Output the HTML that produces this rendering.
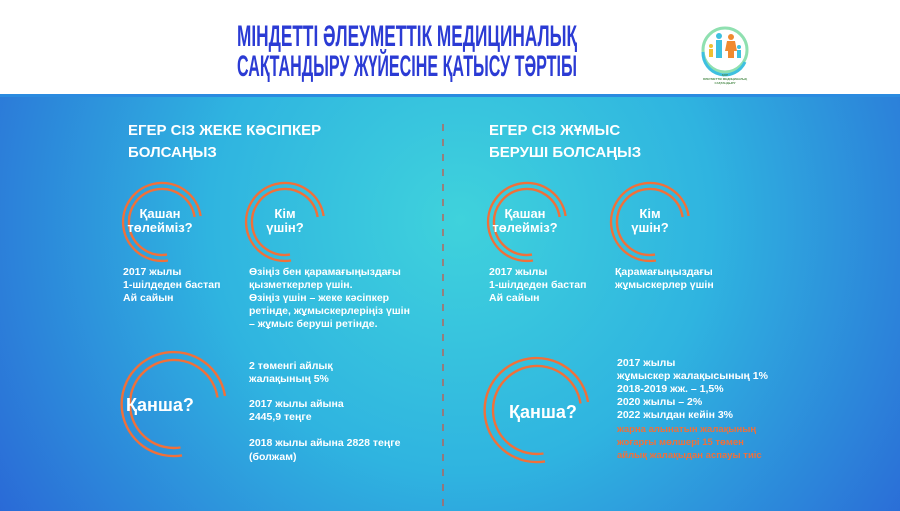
<!DOCTYPE html>
<html><head><meta charset="utf-8"><style>
html,body{margin:0;padding:0;width:900px;height:511px;overflow:hidden;background:#fff}
svg{display:block}
text{font-family:"Liberation Sans","DejaVu Sans",sans-serif;fill:#fff;font-weight:bold}
</style></head><body>
<svg width="900" height="511" viewBox="0 0 900 511">
<defs>
<radialGradient id="bg" cx="460" cy="220" r="560" gradientUnits="userSpaceOnUse">
<stop offset="0" stop-color="#3fd2dc"/>
<stop offset="0.45" stop-color="#2fb4e0"/>
<stop offset="1" stop-color="#2a66d6"/>
</radialGradient>
</defs>
<rect width="900" height="95" fill="#fff"/>
<rect y="95" width="900" height="416" fill="url(#bg)"/>
<rect y="94" width="900" height="3" fill="#2a8be0"/>
<text x="237" y="46" textLength="340" lengthAdjust="spacingAndGlyphs" style="font-size:30px;fill:#2b3bd4">МІНДЕТТІ ӘЛЕУМЕТТІК МЕДИЦИНАЛЫҚ</text>
<text x="237" y="76" textLength="340" lengthAdjust="spacingAndGlyphs" style="font-size:30px;fill:#2b3bd4">САҚТАНДЫРУ ЖҮЙЕСІНЕ ҚАТЫСУ ТӘРТІБІ</text>
<!-- logo -->
<circle cx="725" cy="50" r="22" fill="none" stroke="#8fe0b0" stroke-width="3"/>
<path d="M703 52 A22 22 0 0 0 745 62" fill="none" stroke="#3ec0e0" stroke-width="3"/>
<circle cx="719" cy="36" r="3" fill="#3ec0e0"/><rect x="716" y="40" width="6" height="18" fill="#3ec0e0"/>
<circle cx="731" cy="37" r="3" fill="#f08a30"/><path d="M727 41h8l2 10h-12z" fill="#f08a30"/><rect x="728" y="51" width="6" height="7" fill="#f08a30"/>
<circle cx="711" cy="46" r="2" fill="#f0c030"/><rect x="709" y="49" width="4" height="8" fill="#f0c030"/>
<circle cx="739" cy="47" r="2" fill="#3ec0e0"/><rect x="737" y="50" width="4" height="8" fill="#3ec0e0"/>
<text x="725" y="76" text-anchor="middle" style="font-size:3px;fill:#4a8a4a">ҚОР</text>
<text x="725" y="80" text-anchor="middle" style="font-size:3px;fill:#4a8a4a">ӘЛЕУМЕТТІК МЕДИЦИНАЛЫҚ</text>
<text x="725" y="84" text-anchor="middle" style="font-size:3px;fill:#4a8a4a">САҚТАНДЫРУ</text>

<line x1="443" y1="124" x2="443" y2="508" stroke="#c8584a" stroke-width="1.3" stroke-dasharray="7,8"/>

<g style="font-size:15px">
<text x="128" y="135">ЕГЕР СІЗ ЖЕКЕ КӘСІПКЕР</text>
<text x="128" y="157">БОЛСАҢЫЗ</text>
<text x="489" y="135">ЕГЕР СІЗ ЖҰМЫС</text>
<text x="489" y="157">БЕРУШІ БОЛСАҢЫЗ</text>
</g>

<g fill="none" stroke="#f0703a" stroke-width="2.4">
<!-- small arcs: open gap between ~15deg and ~80deg -->
<g id="s1" transform="translate(162,222)">
<path d="M38.6 -6 A39 39 0 1 0 6 38.5"/>
<path d="M32.6 -5 A33 33 0 1 0 5 32.6"/>
</g>
<g transform="translate(285,222)">
<path d="M38.6 -6 A39 39 0 1 0 6 38.5"/>
<path d="M32.6 -5 A33 33 0 1 0 5 32.6"/>
</g>
<g transform="translate(527,222)">
<path d="M38.6 -6 A39 39 0 1 0 6 38.5"/>
<path d="M32.6 -5 A33 33 0 1 0 5 32.6"/>
</g>
<g transform="translate(650,222)">
<path d="M38.6 -6 A39 39 0 1 0 6 38.5"/>
<path d="M32.6 -5 A33 33 0 1 0 5 32.6"/>
</g>
<g transform="translate(174,404)">
<path d="M51 -8 A52 52 0 1 0 8 51.4"/>
<path d="M43.5 -6.5 A44 44 0 1 0 6.5 43.5"/>
</g>
<g transform="translate(537,410)">
<path d="M51 -8 A52 52 0 1 0 8 51.4"/>
<path d="M43.5 -6.5 A44 44 0 1 0 6.5 43.5"/>
</g>
</g>

<g style="font-size:13px" text-anchor="middle">
<text x="160" y="218">Қашан</text><text x="160" y="232">төлейміз?</text>
<text x="285" y="218">Кім</text><text x="285" y="232">үшін?</text>
<text x="525" y="218">Қашан</text><text x="525" y="232">төлейміз?</text>
<text x="650" y="218">Кім</text><text x="650" y="232">үшін?</text>
</g>
<text x="160" y="411" text-anchor="middle" style="font-size:18px">Қанша?</text>
<text x="543" y="418" text-anchor="middle" style="font-size:18px">Қанша?</text>

<g style="font-size:10.5px;font-weight:normal">
<text x="123" y="275" font-weight="bold">2017 жылы</text>
<text x="123" y="288" font-weight="bold">1-шілдеден бастап</text>
<text x="123" y="301" font-weight="bold">Ай сайын</text>
<text x="249" y="275">Өзіңіз бен қарамағыңыздағы</text>
<text x="249" y="288">қызметкерлер үшін.</text>
<text x="249" y="301">Өзіңіз үшін – жеке кәсіпкер</text>
<text x="249" y="314">ретінде, жұмыскерлеріңіз үшін</text>
<text x="249" y="327">– жұмыс беруші ретінде.</text>
<text x="249" y="369">2 төменгі айлық</text>
<text x="249" y="382">жалақының 5%</text>
<text x="249" y="407">2017 жылы айына</text>
<text x="249" y="420">2445,9 теңге</text>
<text x="249" y="446">2018 жылы айына 2828 теңге</text>
<text x="249" y="460">(болжам)</text>
<text x="489" y="275">2017 жылы</text>
<text x="489" y="288">1-шілдеден бастап</text>
<text x="489" y="301">Ай сайын</text>
<text x="615" y="275">Қарамағыңыздағы</text>
<text x="615" y="288">жұмыскерлер үшін</text>
<text x="617" y="366">2017 жылы</text>
<text x="617" y="379">жұмыскер жалақысының 1%</text>
<text x="617" y="392">2018-2019 жж. – 1,5%</text>
<text x="617" y="405">2020 жылы – 2%</text>
<text x="617" y="418">2022 жылдан кейін 3%</text>
<text x="617" y="432" style="fill:#f0703a;font-size:9.5px">жарна алынатын жалақының</text>
<text x="617" y="445" style="fill:#f0703a;font-size:9.5px">жоғарғы мөлшері 15 төмен</text>
<text x="617" y="458" style="fill:#f0703a;font-size:9.5px">айлық жалақыдан аспауы тиіс</text>
</g>
</svg>
</body></html>
